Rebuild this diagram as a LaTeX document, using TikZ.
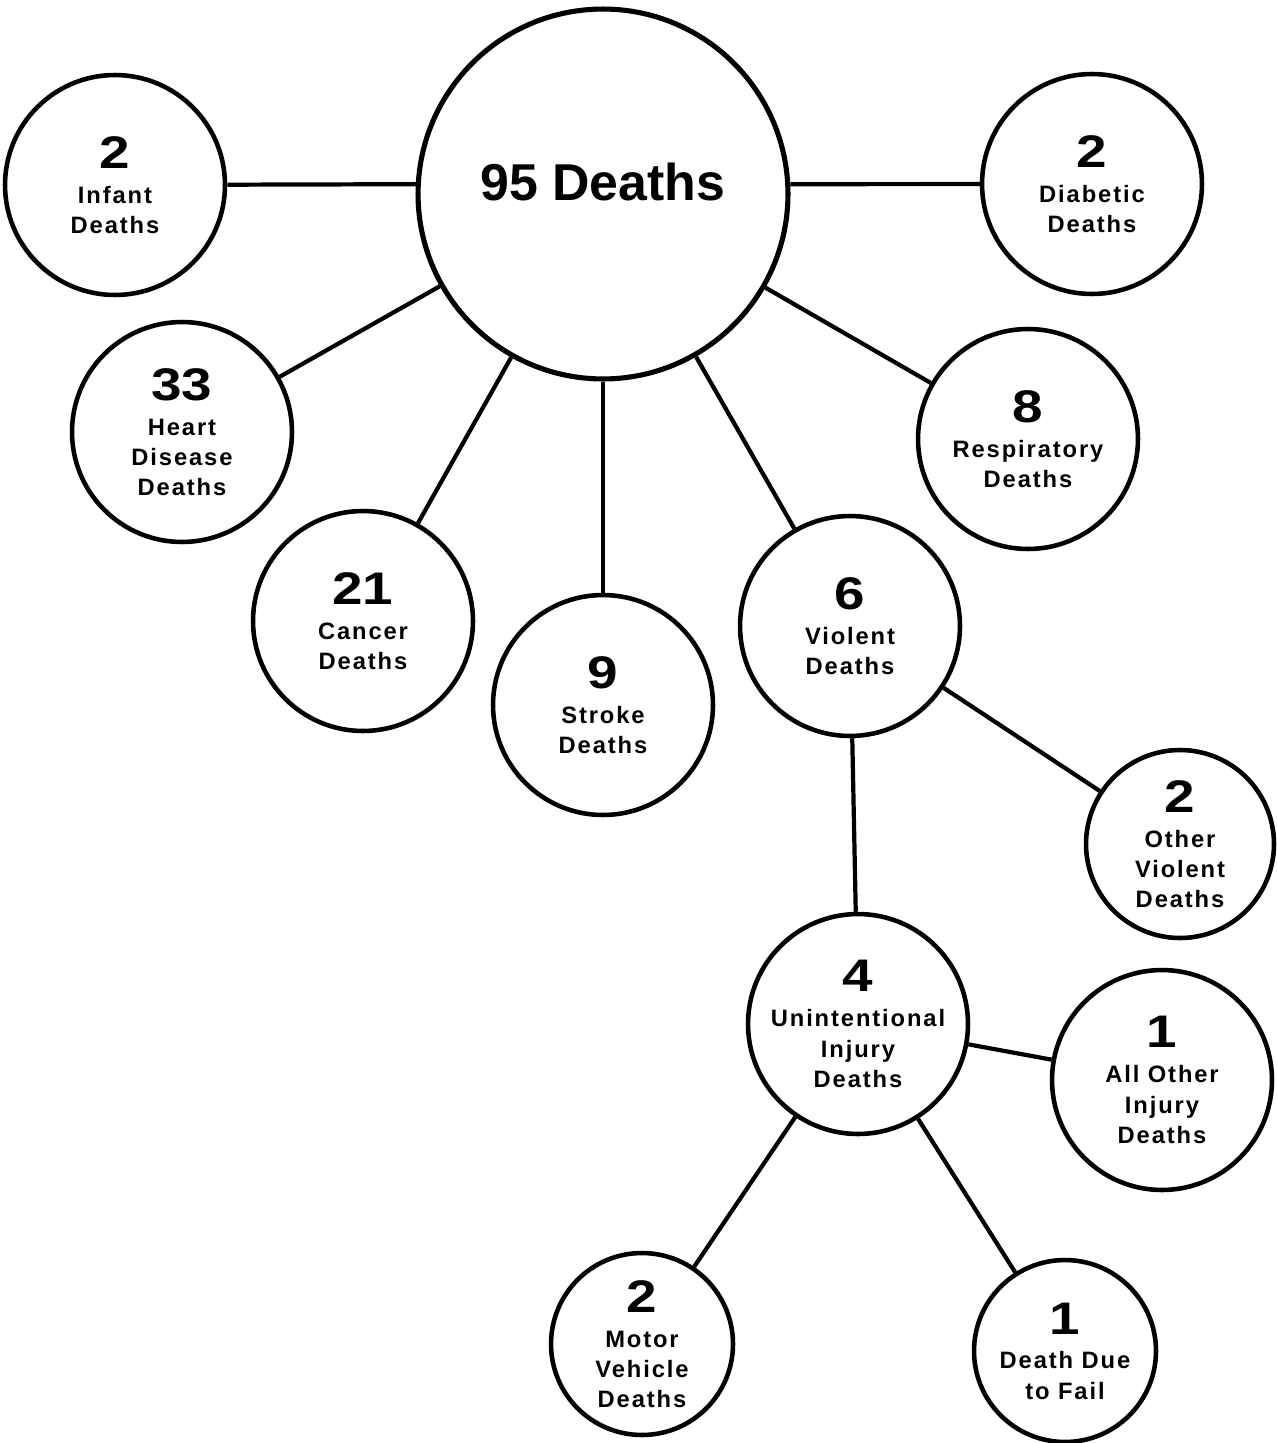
\documentclass[tikz,border=0pt]{standalone}
\usepackage{fontspec}
\setmainfont{Liberation Sans}
\newfontfamily\lblfont{Liberation Sans}[LetterSpace=8.0]
\newfontfamily\numfont{Liberation Sans}[FakeStretch=1.2]
\newcommand{\tally}[1]{{\numfont\bfseries\fontsize{26}{30}\selectfont #1}\\[2.7pt]}
\tikzset{
    bubble/.style={circle, draw, line width=2.6pt, minimum size=#1, inner sep=0pt,
        align=center, font=\lblfont\bfseries\fontsize{13.5}{17.2}\selectfont},
    bubble/.default=4.4cm,
    link/.style={line width=2.4pt}
}
\begin{document}
\begin{tikzpicture}[x=0.02cm, y=-0.02cm]
            \useasboundingbox (0,0) rectangle (1277,1443);

            % all deaths
            \node[bubble=7.4cm, line width=2.9pt, text depth=0.5cm,
                font=\bfseries\fontsize{29.5}{34}\selectfont] (total) at (603,194) {95 Deaths};

            % first ring
            \node[bubble] (infant) at (115,185) {\tally{2}Infant\\Deaths};
            \node[bubble] (diabetic) at (1092,184) {\tally{2}Diabetic\\Deaths};
            \node[bubble] (heart) at (182,432) {\tally{33}Heart\\Disease\\Deaths};
            \node[bubble] (cancer) at (363,621) {\tally{21}Cancer\\Deaths};
            \node[bubble] (stroke) at (603,705) {\tally{9}Stroke\\Deaths};
            \node[bubble] (violent) at (850,626) {\tally{6}Violent\\Deaths};
            \node[bubble] (respiratory) at (1028,439) {\tally{8}Respiratory\\Deaths};

            % violent deaths
            \node[bubble=3.76cm] (otherviolent) at (1180,844) {\tally{2}Other\\Violent\\Deaths};
            \node[bubble] (unintentional) at (858,1024) {\tally{4}Unintentional\\Injury\\Deaths};

            % unintentional injury
            \node[bubble] (otherinjury) at (1162,1080) {\tally{1}All Other\\Injury\\Deaths};
            \node[bubble=3.64cm] (motor) at (642,1344) {\tally{2}Motor\\Vehicle\\Deaths};
            \node[bubble=3.64cm] (fall) at (1065,1351) {\tally{1}Death Due\\to Fail};

            \draw[link] (infant) -- (total.177);
            \draw[link] (total.3) -- (diabetic);
            \foreach \leaf in {heart,cancer,stroke,violent,respiratory}
                \draw[link] (total) -- (\leaf);
            \foreach \leaf in {otherviolent,unintentional}
                \draw[link] (violent) -- (\leaf);
            \foreach \leaf in {otherinjury,motor,fall}
                \draw[link] (unintentional) -- (\leaf);
\end{tikzpicture}
\end{document}
